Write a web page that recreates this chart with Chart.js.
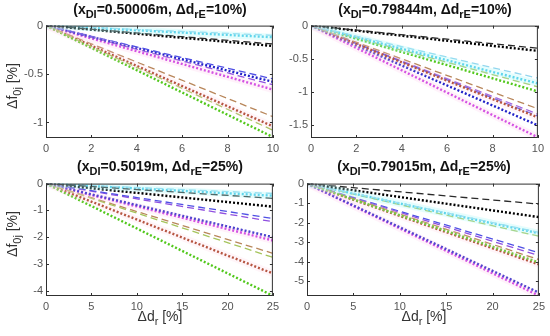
<!DOCTYPE html>
<html>
<head>
<meta charset="utf-8">
<script src="https://cdn.jsdelivr.net/npm/chart.js@4.4.0/dist/chart.umd.min.js"></script>
<style>
  body { margin: 0; width: 550px; height: 336px; background: #fff; position: relative; overflow: hidden;
         font-family: "Liberation Sans", Arial, sans-serif; }
  canvas { position: absolute; }
  .title { position: absolute; font-weight: bold; font-size: 14px; line-height: 16px; color: #111;
           white-space: nowrap; transform: translateX(-50%); }
  .title sub, .lab sub { font-size: 11px; vertical-align: -4px; line-height: 0; }
  .lab { position: absolute; font-size: 14px; line-height: 16px; color: #333; white-space: nowrap; }
  .ylab { transform: translate(-50%, -50%) rotate(-90deg); }
  .xlab { transform: translateX(-50%); }
</style>
</head>
<body>
<canvas id="tl"></canvas>
<canvas id="tr"></canvas>
<canvas id="bl"></canvas>
<canvas id="br"></canvas>

<div class="title" style="left:160px;top:1px">(x<sub>DI</sub>=0.50006m, &Delta;d<sub>rE</sub>=10%)</div>
<div class="title" style="left:425px;top:1px">(x<sub>DI</sub>=0.79844m, &Delta;d<sub>rE</sub>=10%)</div>
<div class="title" style="left:160px;top:158px">(x<sub>DI</sub>=0.5019m, &Delta;d<sub>rE</sub>=25%)</div>
<div class="title" style="left:424px;top:158px">(x<sub>DI</sub>=0.79015m, &Delta;d<sub>rE</sub>=25%)</div>

<div class="lab ylab" style="left:12px;top:86px">&Delta;f<sub>0j</sub> [%]</div>
<div class="lab ylab" style="left:12px;top:234px">&Delta;f<sub>0j</sub> [%]</div>
<div class="lab xlab" style="left:160px;top:308px">&Delta;d<sub>r</sub> [%]</div>
<div class="lab xlab" style="left:424px;top:308px">&Delta;d<sub>r</sub> [%]</div>

<script>
// x range of each panel (start, end of the sweep)
const xTop = [0, 10];
const xBottom = [0, 25];

// tick labels
const xTicksTop = [0, 2, 4, 6, 8, 10];
const xTicksBottom = [0, 5, 10, 15, 20, 25];
const yTicksTL = [-1, -0.5, 0];
const yTicksTR = [-1.5, -1, -0.5, 0];
const yTicksBL = [-4, -3, -2, -1, 0];
const yTicksBR = [-5, -4, -3, -2, -1, 0];

// curves: every curve starts at 0, values are read at the right end of the sweep
const seriesKeys = ['kDash', 'kDot', 'cDash', 'cDot', 'gDash', 'gDot', 'rDash', 'rDot', 'bDash', 'bDot', 'mDash', 'mDot'];
const endTL = [-0.19, -0.21, -0.10, -0.12, -1.08, -1.15, -0.94, -1.04, -0.55, -0.58, -0.61, -0.66];
const endTR = [-0.34, -0.38, -0.79, -0.87, -0.92, -0.99, -1.25, -1.38, -1.36, -1.50, -1.33, -1.68];
const endBL = [-0.55, -0.86, -0.37, -0.45, -2.75, -4.18, -2.60, -3.35, -1.30, -2.00, -1.42, -2.12];
const endBR = [-1.05, -1.72, -2.50, -2.55, -2.70, -4.05, -3.90, -4.15, -3.55, -5.60, -3.70, -5.75];

// y axis lower limits (MATLAB axis tight)
const yMinTL = -1.16, yMinTR = -1.69, yMinBL = -4.19, yMinBR = -5.77;

const DASH = [7, 4], DOT = [2, 2];
const styles = {
  kDash: { color: '#2a2a2a', dash: DASH, w: 1.3 },
  kDot:  { color: '#000000', dash: DOT, w: 2.4 },
  cDash: { color: '#92d6ee', dash: DASH, w: 1.3 },
  cDot:  { color: '#3fc6e6', dash: DOT, w: 2.4 },
  gDash: { color: '#a6c45c', dash: DASH, w: 1.3 },
  gDot:  { color: '#52c81c', dash: DOT, w: 2.4 },
  rDash: { color: '#b8865a', dash: DASH, w: 1.3 },
  rDot:  { color: '#a4381a', dash: DOT, w: 2.4 },
  bDash: { color: '#5050e4', dash: DASH, w: 1.3 },
  bDot:  { color: '#2222c8', dash: DOT, w: 2.4 },
  mDash: { color: '#9050e0', dash: DASH, w: 1.3 },
  mDot:  { color: '#c832e2', dash: DOT, w: 2.4 }
};
// faint colour fringes that sit around some curves in the picture
const halos = { cDot: 'rgba(170,250,250,0.3)', mDot: 'rgba(255,195,230,0.22)', rDot: 'rgba(255,205,225,0.2)' };

const FONT = '"Liberation Sans", Arial, sans-serif';

// box around the axes plus inward tick marks on all four sides
const frame = {
  id: 'frame',
  afterDatasetsDraw(chart) {
    const { ctx, chartArea: a, scales: { x, y } } = chart;
    ctx.save();
    ctx.strokeStyle = '#303030';
    ctx.lineWidth = 1;
    ctx.strokeRect(a.left + 0.5, a.top + 0.5, a.right - a.left - 1, a.bottom - a.top - 1);
    ctx.beginPath();
    x.ticks.forEach(t => {
      const px = Math.round(x.getPixelForValue(t.value)) + 0.5;
      ctx.moveTo(px, a.bottom); ctx.lineTo(px, a.bottom - 3);
      ctx.moveTo(px, a.top); ctx.lineTo(px, a.top + 3);
    });
    y.ticks.forEach(t => {
      const py = Math.round(y.getPixelForValue(t.value)) + 0.5;
      ctx.moveTo(a.left, py); ctx.lineTo(a.left + 3, py);
      ctx.moveTo(a.right, py); ctx.lineTo(a.right - 3, py);
    });
    ctx.stroke();
    ctx.restore();
  }
};

function makePanel(id, area, xs, ends, yMin, xTicks, yTicks) {
  const PAD_T = 8, PAD_R = 8, Y_W = 40, X_H = 20;
  const canvas = document.getElementById(id);
  canvas.width = area.r - area.l + Y_W + PAD_R;
  canvas.height = area.b - area.t + PAD_T + X_H;
  canvas.style.left = (area.l - Y_W) + 'px';
  canvas.style.top = (area.t - PAD_T) + 'px';

  const datasets = [];
  seriesKeys.forEach((k, i) => {
    if (halos[k]) {
      datasets.push({
        data: [{ x: xs[0], y: 0 }, { x: xs[1], y: ends[i] }],
        borderColor: halos[k], borderWidth: 7, pointRadius: 0, fill: false
      });
    }
  });
  seriesKeys.forEach((k, i) => {
    const s = styles[k];
    datasets.push({
      data: [{ x: xs[0], y: 0 }, { x: xs[1], y: ends[i] }],
      borderColor: s.color, borderDash: s.dash, borderWidth: s.w,
      pointRadius: 0, fill: false
    });
  });

  const tickFont = { family: FONT, size: 11 };
  new Chart(canvas, {
    type: 'line',
    data: { datasets },
    options: {
      responsive: false,
      animation: false,
      layout: { padding: { top: PAD_T, right: PAD_R, left: 0, bottom: 0 } },
      plugins: { legend: { display: false }, tooltip: { enabled: false } },
      scales: {
        x: {
          type: 'linear', min: xs[0], max: xs[1],
          afterBuildTicks: s => { s.ticks = xTicks.map(v => ({ value: v })); },
          afterFit: s => { s.height = X_H; },
          grid: { display: false, drawTicks: false },
          border: { display: false },
          ticks: { color: '#555', font: tickFont, padding: 4, maxRotation: 0, callback: v => String(v) }
        },
        y: {
          type: 'linear', min: yMin, max: 0,
          afterBuildTicks: s => { s.ticks = yTicks.map(v => ({ value: v })); },
          afterFit: s => { s.width = Y_W; },
          grid: { display: false, drawTicks: false },
          border: { display: false },
          ticks: { color: '#555', font: tickFont, padding: 3, callback: v => String(v) }
        }
      }
    },
    plugins: [frame]
  });
}

makePanel('tl', { l: 46, t: 24, r: 275, b: 138 }, xTop, endTL, yMinTL, xTicksTop, yTicksTL);
makePanel('tr', { l: 311, t: 24, r: 540, b: 138 }, xTop, endTR, yMinTR, xTicksTop, yTicksTR);
makePanel('bl', { l: 46, t: 182, r: 275, b: 296 }, xBottom, endBL, yMinBL, xTicksBottom, yTicksBL);
makePanel('br', { l: 307, t: 182, r: 541, b: 296 }, xBottom, endBR, yMinBR, xTicksBottom, yTicksBR);
</script>
</body>
</html>
